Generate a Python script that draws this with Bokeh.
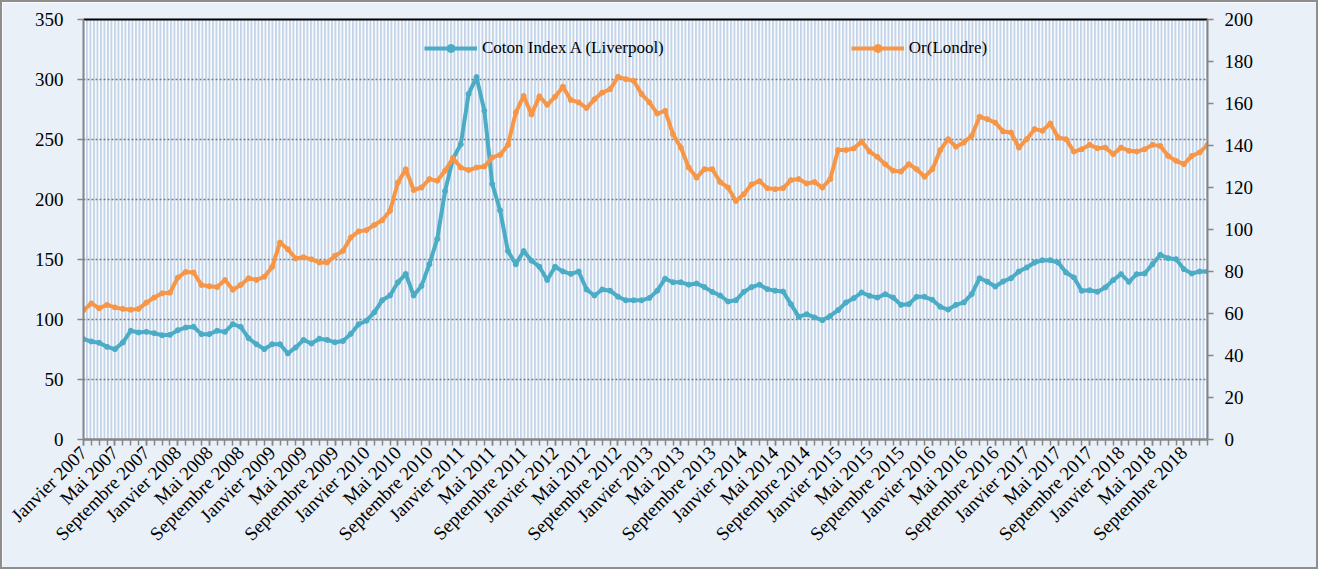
from bokeh.plotting import figure
from bokeh.models import Range1d, LinearAxis, FixedTicker, BoxAnnotation, Legend, LegendItem
from bokeh.embed import file_html
from bokeh.resources import INLINE
import math

# ---- data ----
mois = ["Janvier", "Février", "Mars", "Avril", "Mai", "Juin", "Juillet", "Août",
        "Septembre", "Octobre", "Novembre", "Décembre"]
annees = list(range(2007, 2019))

coton = [
    83.6, 81.7, 80.6, 77.2, 75.3, 80.8, 90.6, 89.2, 89.7, 88.6, 86.9, 87.2,
    91.1, 93.3, 93.9, 87.8, 87.8, 90.6, 89.7, 96.1, 93.9, 84.4, 79.4, 75.3,
    79.4, 79.4, 71.7, 76.7, 83.0, 80.0, 84.0, 83.0, 81.0, 82.0, 88.0, 96.0,
    99.0, 106.0, 116.0, 120.0, 131.0, 138.0, 120.0, 128.0, 146.0, 167.0, 207.0, 234.0,
    246.0, 288.0, 302.0, 274.0, 213.0, 191.0, 157.0, 146.0, 157.0, 149.0, 144.0, 133.0,
    144.0, 140.0, 138.0, 140.0, 125.0, 120.0, 125.0, 124.0, 119.0, 116.0, 116.0, 116.0,
    118.0, 124.0, 134.0, 131.0, 131.0, 129.0, 130.0, 127.0, 123.0, 120.0, 115.0, 116.0,
    123.0, 127.0, 129.0, 125.3, 124.0, 123.3, 112.8, 102.2, 104.4, 101.7, 99.4, 103.0,
    107.8, 114.2, 117.8, 122.5, 119.7, 118.3, 121.1, 118.3, 112.2, 112.8, 118.9, 118.9,
    116.4, 110.6, 108.3, 112.2, 114.2, 121.1, 134.4, 131.5, 127.5, 131.7, 134.4, 140.0,
    143.3, 147.5, 149.4, 149.4, 147.5, 139.2, 135.0, 123.9, 124.4, 123.1, 126.7, 132.8,
    137.8, 131.4, 137.8, 138.3, 146.1, 153.9, 151.1, 150.3, 141.9, 138.3, 140.0, 140.0,
]

orl = [
    61.6, 64.8, 62.5, 64.1, 62.9, 62.2, 61.8, 62.2, 65.2, 67.6, 69.6, 69.9,
    77.1, 79.8, 79.5, 73.6, 73.0, 72.6, 75.9, 71.3, 73.6, 76.8, 76.0, 77.5,
    82.2, 93.8, 90.6, 86.2, 86.8, 85.8, 84.3, 84.3, 87.5, 89.8, 96.2, 99.1,
    99.7, 102.2, 104.4, 108.9, 122.4, 128.7, 118.8, 120.0, 124.0, 123.2, 128.0, 134.0,
    129.5, 128.3, 129.5, 130.0, 134.3, 135.5, 140.3, 155.7, 163.6, 154.8, 163.4, 159.4,
    163.2, 168.0, 161.7, 160.5, 157.8, 162.0, 165.2, 166.8, 172.7, 171.6, 170.8, 164.5,
    160.5, 155.2, 156.5, 145.4, 139.0, 129.5, 124.7, 128.7, 128.7, 122.6, 120.0, 113.6,
    116.8, 121.5, 123.0, 119.7, 119.2, 119.7, 123.5, 124.0, 121.9, 122.6, 120.0, 124.0,
    137.8, 137.8, 138.6, 141.9, 137.1, 134.6, 131.1, 128.0, 127.6, 131.1, 128.7, 125.1,
    128.7, 137.8, 143.0, 139.4, 141.4, 144.6, 153.7, 152.5, 150.9, 146.7, 146.2, 139.0,
    143.0, 147.8, 147.0, 150.5, 143.8, 143.0, 137.1, 138.2, 140.3, 138.7, 139.0, 135.9,
    139.0, 137.5, 137.1, 138.2, 140.3, 139.8, 135.0, 132.7, 131.1, 135.0, 136.7, 140.3,
]

x = list(range(len(coton)))
labels = {i: f"{mois[i % 12]} {annees[i // 12]}" for i in range(0, len(x), 4)}

FONT = "Liberation Serif"
BLUE = "#4BACC6"
ORANGE = "#F79646"
GRAY = "#868686"

p = figure(width=1318, height=569, output_backend="svg", toolbar_location=None,
           x_range=Range1d(0, len(x) - 1), y_range=Range1d(0, 350),
           min_border_left=81, min_border_right=113, min_border_top=17, min_border_bottom=132)
p.styles = {"border": "2px solid #8e8e8e"}
p.border_fill_color = "#E9F0F8"
p.background_fill_color = "#C3D4E9"
p.outline_line_color = None
p.extra_y_ranges = {"or": Range1d(0, 200)}

stripes = BoxAnnotation(fill_alpha=0, line_alpha=0, hatch_pattern="vertical_line",
                        hatch_color="white", hatch_scale=3.5, hatch_weight=1.6, hatch_alpha=0.95,
                        level="image")
p.add_layout(stripes)

# grid
p.xgrid.grid_line_color = None
p.ygrid.ticker = FixedTicker(ticks=list(range(50, 301, 50)))
p.ygrid.grid_line_color = "#7a7a7a"
p.ygrid.grid_line_dash = "2 2"
p.ygrid.grid_line_width = 1.5

# axes
def style_axis(ax):
    ax.axis_line_color = GRAY
    ax.axis_line_width = 2
    ax.major_tick_line_color = GRAY
    ax.minor_tick_line_color = GRAY
    ax.major_tick_line_width = 1.5
    ax.minor_tick_line_width = 1.5
    ax.major_tick_in = 0
    ax.minor_tick_in = 0
    ax.major_tick_out = 6
    ax.minor_tick_out = 6
    ax.major_label_text_font = FONT
    ax.major_label_text_font_size = "19px"
    ax.major_label_text_color = "black"

ax_l = p.yaxis[0]
ax_l.ticker = FixedTicker(ticks=list(range(0, 351, 50)))
style_axis(ax_l)
ax_l.minor_tick_line_color = None
ax_l.major_label_standoff = 14

ax_r = LinearAxis(y_range_name="or", ticker=FixedTicker(ticks=list(range(0, 201, 20))))
style_axis(ax_r)
ax_r.minor_tick_line_color = None
ax_r.major_label_standoff = 11
p.add_layout(ax_r, "right")

ax_b = p.xaxis[0]
ax_b.ticker = FixedTicker(ticks=list(labels.keys()), minor_ticks=x)
ax_b.major_label_overrides = labels
style_axis(ax_b)
ax_b.axis_line_width = 2.5
ax_b.major_label_orientation = math.pi / 4
ax_b.major_label_standoff = 4

ax_t = LinearAxis(ticker=FixedTicker(ticks=[]), axis_line_color="black", axis_line_width=2,
                  major_tick_line_color=None, minor_tick_line_color=None,
                  major_label_standoff=0)
p.add_layout(ax_t, "above")

# series
l1 = p.line(x, coton, line_color=BLUE, line_width=4, line_join="round")
s1 = p.scatter(x, coton, size=5, fill_color=BLUE, line_color=BLUE)
l2 = p.line(x, orl, line_color=ORANGE, line_width=4, line_join="round", y_range_name="or")
s2 = p.scatter(x, orl, size=5, fill_color=ORANGE, line_color=ORANGE, y_range_name="or")

legend = Legend(items=[LegendItem(label="Coton Index A (Liverpool)", renderers=[l1, s1]),
                       LegendItem(label="Or(Londre)", renderers=[l2, s2])],
                orientation="horizontal", location=(341, 381), spacing=187,
                glyph_width=53, glyph_height=20, label_height=20, label_standoff=5,
                padding=0, margin=0, border_line_alpha=0, background_fill_alpha=0,
                label_text_font=FONT, label_text_font_size="17px", label_text_color="black")
p.add_layout(legend)

open("out.html", "w").write(file_html(p, INLINE))
